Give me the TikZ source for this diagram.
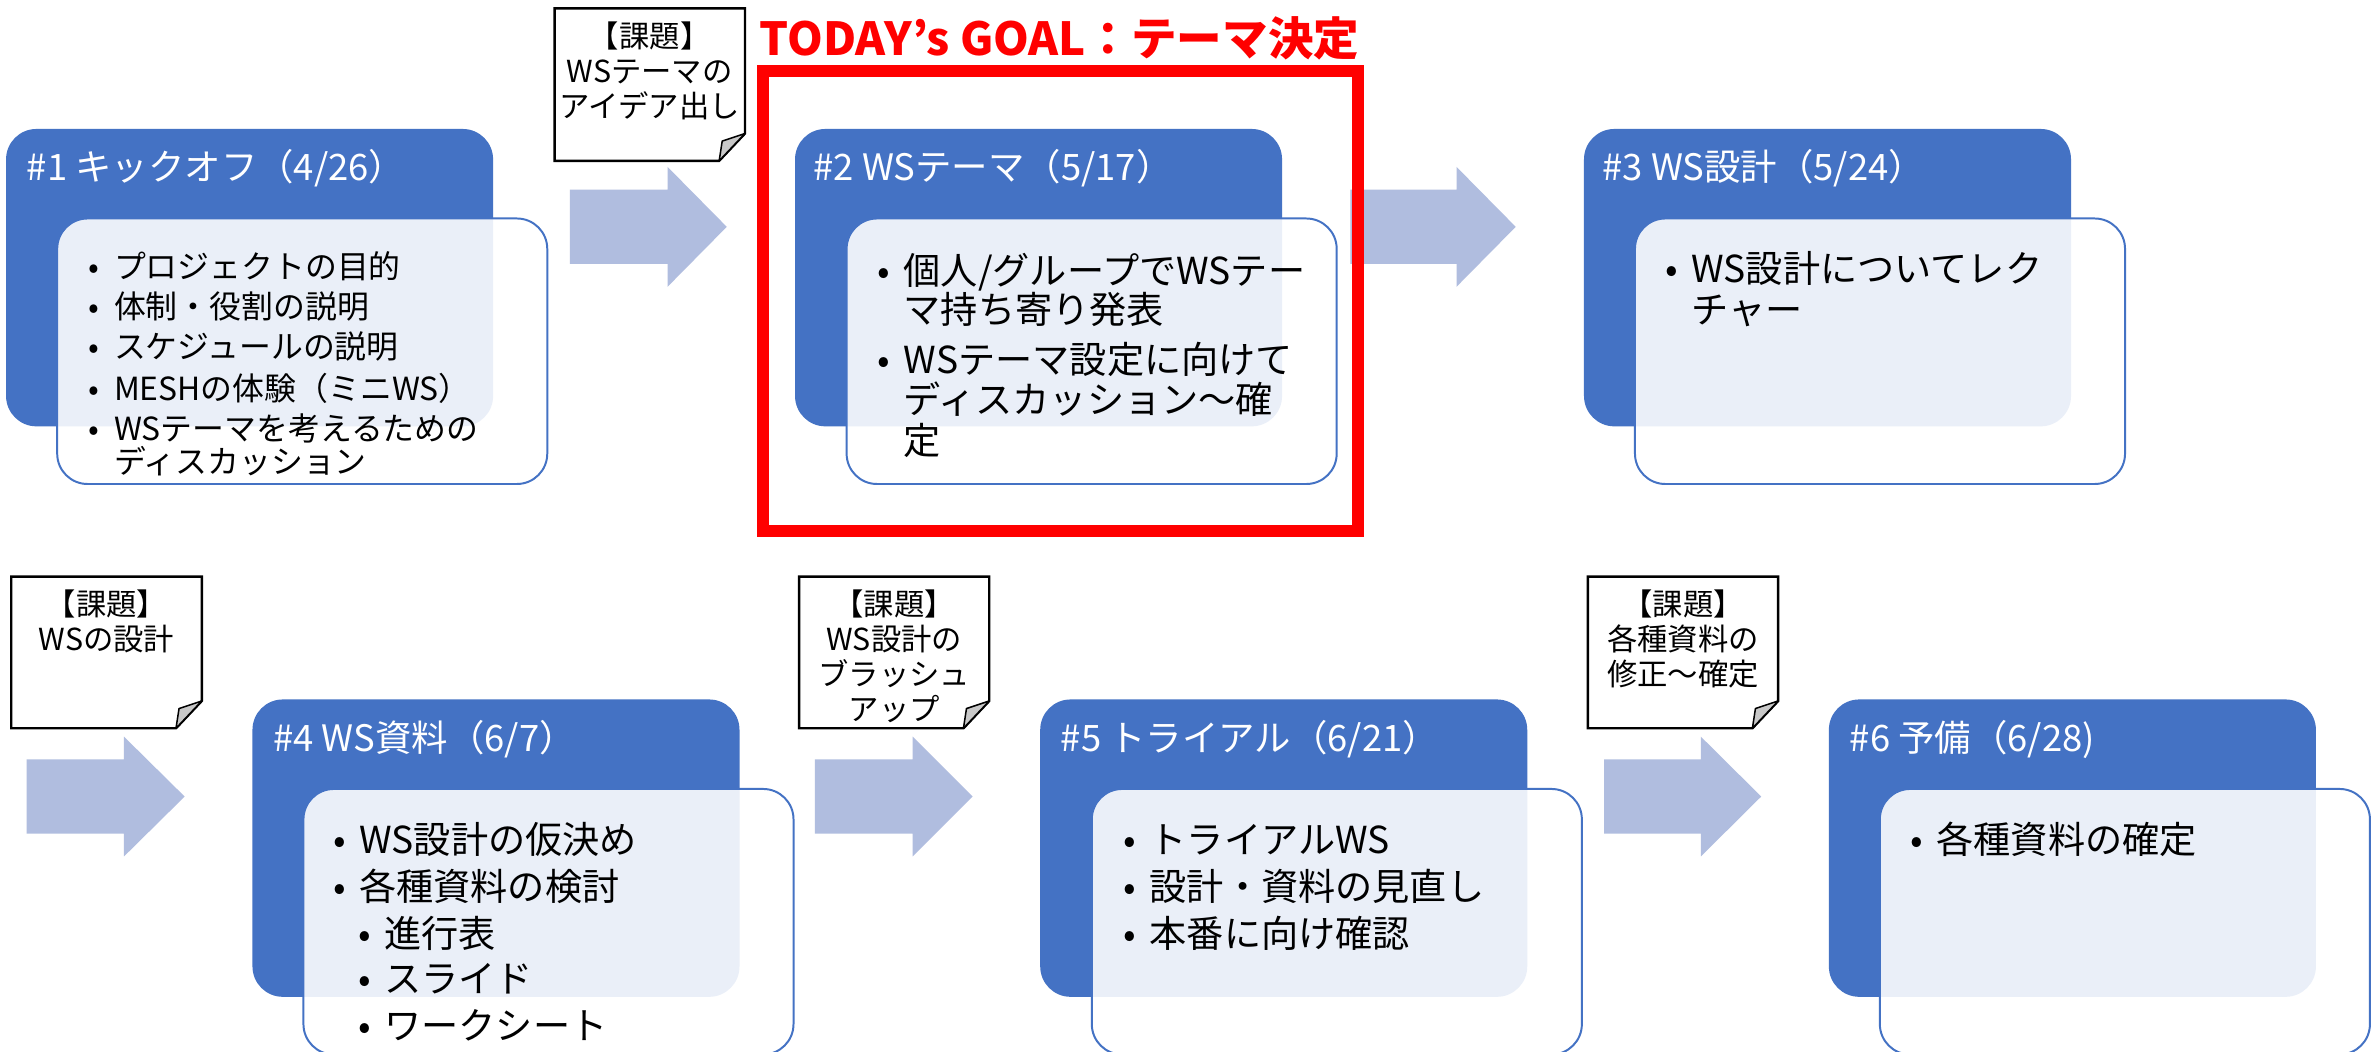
\documentclass[tikz,border=0pt]{standalone}
\usepackage{fontspec}
\setmainfont{Noto Sans CJK JP}
\definecolor{accblue}{HTML}{4472C4}
\definecolor{arrowfill}{RGB}{176,189,223}
\definecolor{foldgray}{RGB}{200,200,200}
\newcommand\bul{\makebox[0pt][c]{•}\hspace{13pt}}
\newcommand\blockarr[4]{%
  \fill[arrowfill] (#1,#4-24.5) -- (#2,#4-24.5) -- (#2,#4-39.5) -- (#3,#4) -- (#2,#4+39.5) -- (#2,#4+24.5) -- (#1,#4+24.5) -- cycle;}
\newcommand\notebox[4]{%
  \filldraw[notestyle] (#1,#2) -- (#3,#2) -- (#3,#4-18) -- (#3-17,#4) -- (#1,#4) -- cycle;
  \filldraw[foldstyle] (#3,#4-18) -- (#3-15,#4-13) -- (#3-17,#4) -- cycle;}
\begin{document}
\begin{tikzpicture}[x=1pt,y=-1pt,
  bluebox/.style={fill=accblue, rounded corners=20pt, anchor=north west, inner sep=0pt, outer sep=0pt, minimum width=321pt, minimum height=196pt},
  whitebox/.style={fill=white, fill opacity=0.89, draw=accblue, line width=1.3pt, rounded corners=20pt, anchor=north west, inner sep=0pt, outer sep=0pt, minimum width=323pt, minimum height=175pt},
  titletext/.style={anchor=base west, inner sep=0pt, text=white, font=\fontsize{24}{28}\selectfont},
  itemtext/.style={anchor=base west, inner sep=0pt, font=\fontsize{24.5}{29}\selectfont},
  itemsmall/.style={anchor=base west, inner sep=0pt, font=\fontsize{21}{25}\selectfont},
  notetext/.style={anchor=base, inner sep=0pt, font=\fontsize{20}{23}\selectfont},
  notestyle/.style={draw=black, fill=white, line width=1.6pt, line join=miter},
  foldstyle/.style={draw=black, fill=foldgray, line width=1pt, line join=round},
]
\clip (0,0) rectangle (1568,693);
\fill[white] (0,0) rectangle (1568,693);

% block arrows
\blockarr{375.6}{440}{479}{149.5}
\blockarr{890}{960}{999}{149.5}
\blockarr{17.5}{81.7}{121.7}{525}
\blockarr{537}{601.5}{641}{525}
\blockarr{1057.3}{1121}{1160.8}{525}

% blue boxes
\node[bluebox] (b1) at (4,85) {};
\node[bluebox] (b2) at (524,85) {};
\node[bluebox] (b3) at (1044,85) {};
\node[bluebox] (b4) at (166.4,461) {};
\node[bluebox] (b5) at (685.6,461) {};
\node[bluebox] (b6) at (1205.4,461) {};

% white boxes
\node[whitebox] (w1) at (37.7,144) {};
\node[whitebox] (w2) at (558,144) {};
\node[whitebox] (w3) at (1077.6,144) {};
\node[whitebox] (w4) at (200,520) {};
\node[whitebox] (w5) at (719.6,520) {};
\node[whitebox] (w6) at (1239,520) {};

% titles
\node[titletext] (t1) at (17.5,119) {\#1 キックオフ（4/26）};
\node[titletext] (t2) at (536,119) {\#2 WSテーマ（5/17）};
\node[titletext] (t3) at (1056,119) {\#3 WS設計（5/24）};
\node[titletext] (t4) at (180,495) {\#4 WS資料（6/7）};
\node[titletext] (t5) at (699,495) {\#5 トライアル（6/21）};
\node[titletext] (t6) at (1219,495) {\#6 予備（6/28)};

% items #1
\node[itemsmall] (i1a) at (62,183.8) {\bul プロジェクトの目的};
\node[itemsmall] (i1b) at (62,210) {\bul 体制・役割の説明};
\node[itemsmall] (i1c) at (62,236.6) {\bul スケジュールの説明};
\node[itemsmall] (i1d) at (62,264) {\bul MESHの体験（ミニWS）};
\node[itemsmall] (i1e) at (62,290.4) {\bul WSテーマを考えるための};
\node[itemsmall] (i1f) at (75,312.4) {ディスカッション};

% items #2
\node[itemtext] (i2a) at (582.5,187.3) {\bul 個人/グループでWSテー};
\node[itemtext] (i2b) at (595.5,213.3) {マ持ち寄り発表};
\node[itemtext] (i2c) at (582.5,246.3) {\bul WSテーマ設定に向けて};
\node[itemtext] (i2d) at (595.5,272.3) {ディスカッション～確};
\node[itemtext] (i2e) at (595.5,299.3) {定};

% items #3
\node[itemtext] (i3a) at (1101.6,186.3) {\bul WS設計についてレク};
\node[itemtext] (i3b) at (1114.6,212.9) {チャー};

% items #4
\node[itemtext] (i4a) at (223.6,562.3) {\bul WS設計の仮決め};
\node[itemtext] (i4b) at (223.6,593.3) {\bul 各種資料の検討};
\node[itemtext] (i4c) at (240.2,624.3) {\bul 進行表};
\node[itemtext] (i4d) at (240.2,654.3) {\bul スライド};
\node[itemtext] (i4e) at (240.2,685.3) {\bul ワークシート};

% items #5
\node[itemtext] (i5a) at (744.6,562.3) {\bul トライアルWS};
\node[itemtext] (i5b) at (744.6,593.3) {\bul 設計・資料の見直し};
\node[itemtext] (i5c) at (744.6,624.3) {\bul 本番に向け確認};

% items #6
\node[itemtext] (i6a) at (1263.2,562.3) {\bul 各種資料の確定};

% notes
\notebox{365.5}{5.5}{491}{106}
\node[notetext] (n1a) at (428.2,31.2) {【課題】};
\node[notetext] (n1b) at (428.2,54.2) {WSテーマの};
\node[notetext] (n1c) at (428.2,77.2) {アイデア出し};

\notebox{7.4}{380}{133}{480}
\node[notetext] (n4a) at (70.2,405.7) {【課題】};
\node[notetext] (n4b) at (70.2,428.7) {WSの設計};

\notebox{526.7}{380}{652}{480}
\node[notetext] (n5a) at (589.4,405.7) {【課題】};
\node[notetext] (n5b) at (589.4,428.7) {WS設計の};
\node[notetext] (n5c) at (589.4,451.7) {ブラッシュ};
\node[notetext] (n5d) at (589.4,474.7) {アップ};

\notebox{1046.5}{380}{1172}{480}
\node[notetext] (n6a) at (1109.3,405.7) {【課題】};
\node[notetext] (n6b) at (1109.3,428.7) {各種資料の};
\node[notetext] (n6c) at (1109.3,451.7) {修正～確定};

% goal frame
\draw[red, line width=8pt] (503,47) rectangle (895,350);
\node[anchor=base west, inner sep=0pt, text=red, font=\fontsize{30}{34}\bfseries\selectfont] (goal) at (500.6,36.5) {TODAY’s GOAL：テーマ決定};
\end{tikzpicture}
\end{document}
